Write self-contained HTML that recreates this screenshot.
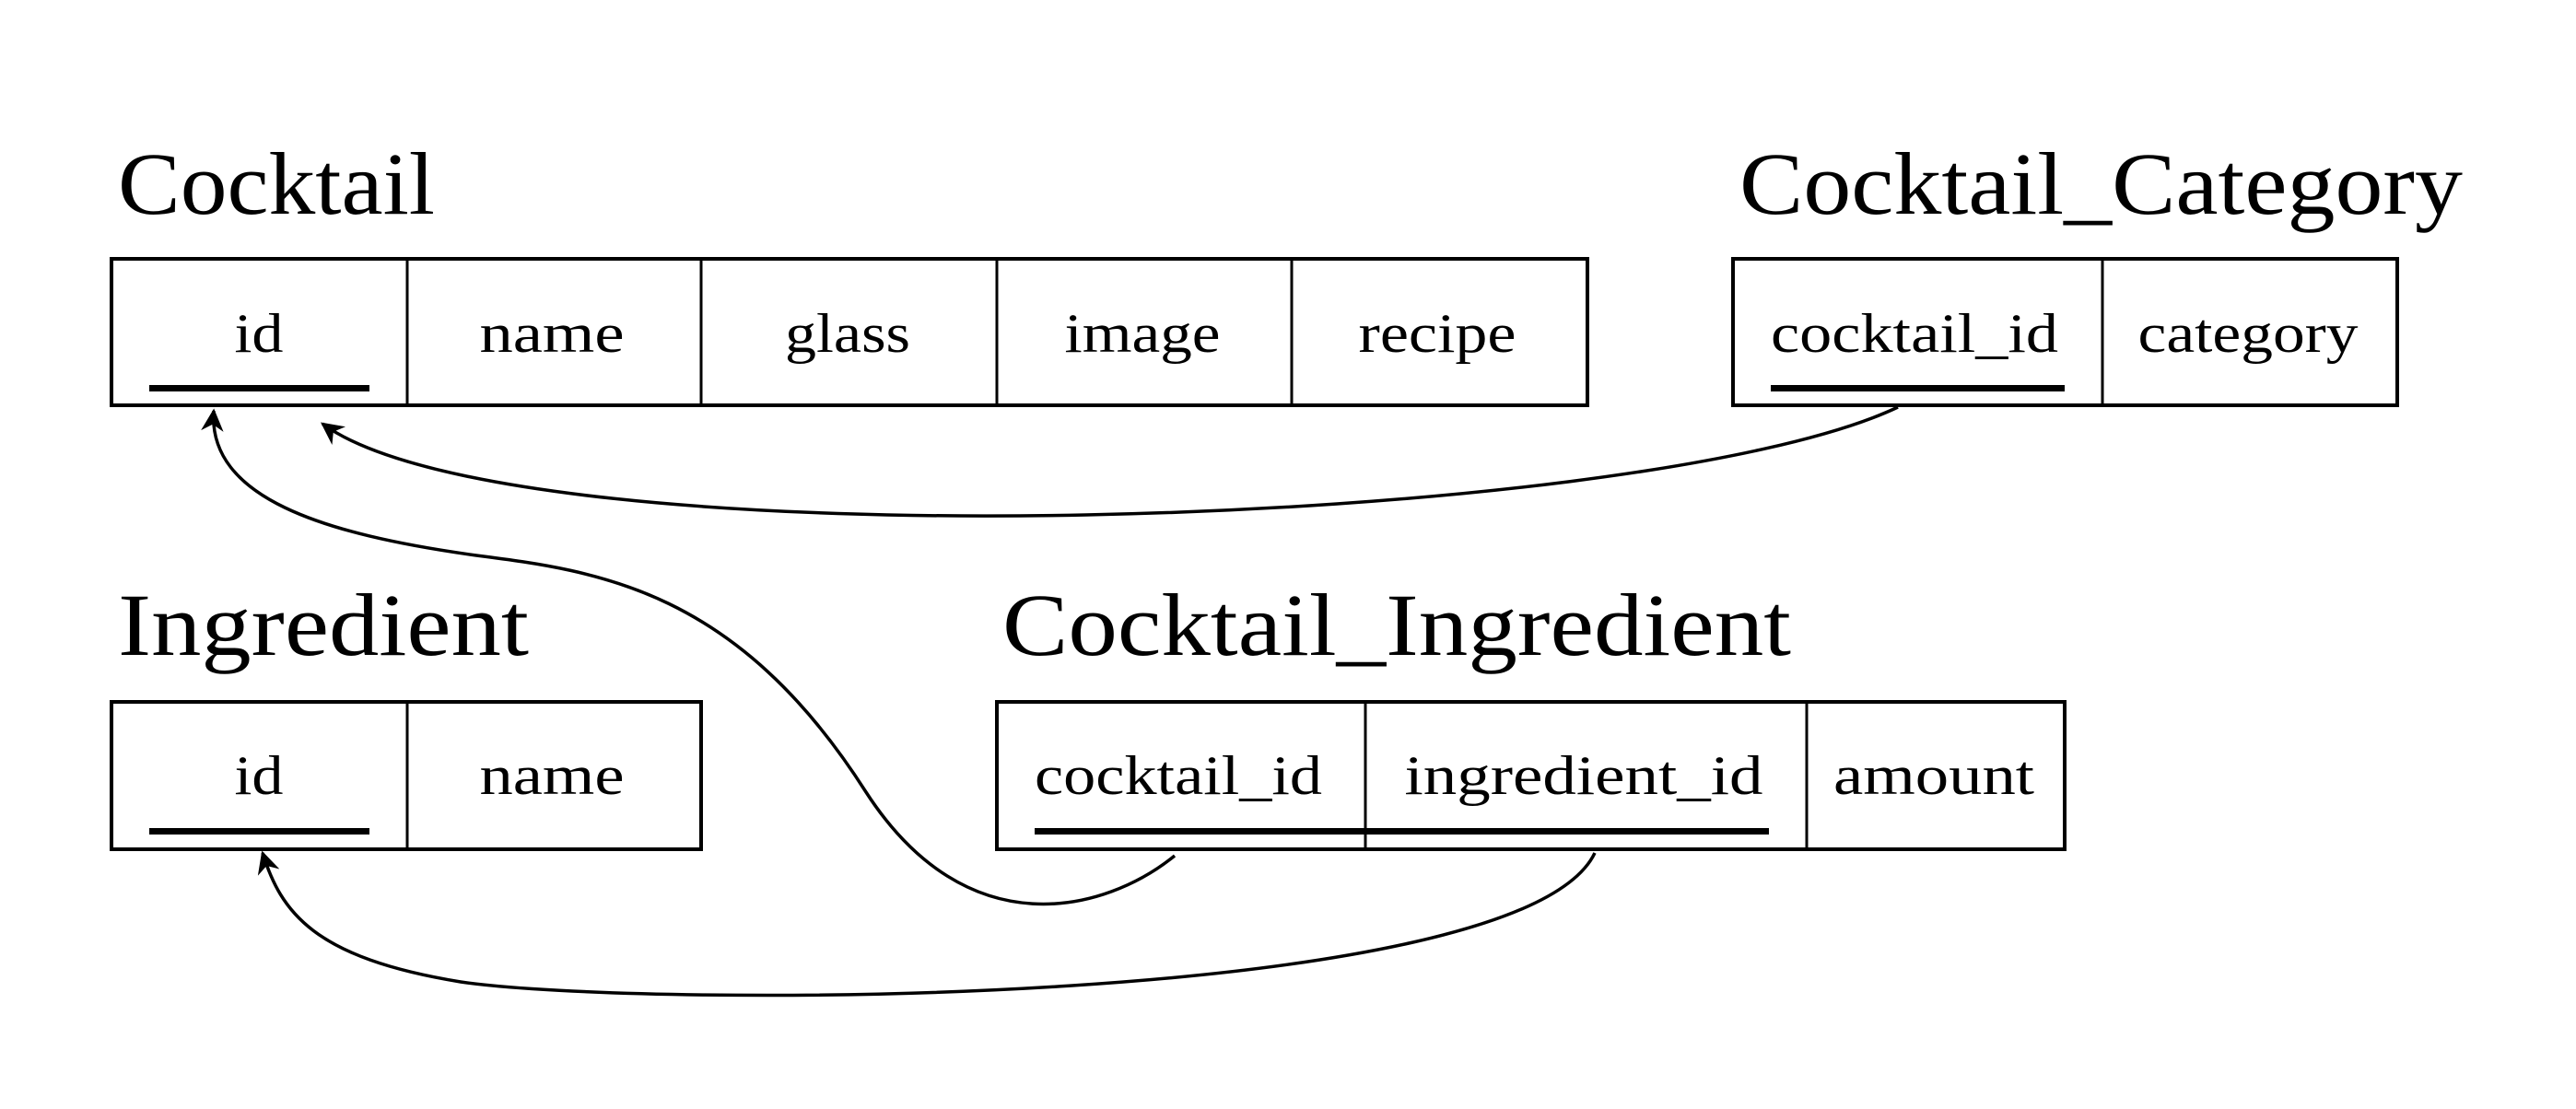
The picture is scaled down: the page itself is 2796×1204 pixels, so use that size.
<!DOCTYPE html>
<html><head><meta charset="utf-8"><style>
html,body{margin:0;padding:0;background:#fff;}
svg{display:block;}
text{font-family:"Liberation Serif",serif;fill:#000;}
.t{font-size:96px;}
.f{font-size:60px;text-anchor:middle;}
</style></head><body>
<svg width="2796" height="1204" viewBox="0 0 2796 1204" xmlns="http://www.w3.org/2000/svg">
<defs>
<marker id="a" viewBox="0 0 10 10" refX="9" refY="5" markerWidth="7" markerHeight="7" orient="auto" markerUnits="strokeWidth">
<path d="M0,0 L10,5 L0,10 L3,5 z" fill="#000"/></marker>
</defs>
<g fill="none" stroke="#000">
<rect x="121" y="281" width="1602" height="159" stroke-width="4"/>
<path d="M442 281V440M761 281V440M1082 281V440M1402 281V440" stroke-width="3"/>
<rect x="1881" y="281" width="721" height="159" stroke-width="4"/>
<path d="M2282 281V440" stroke-width="3"/>
<rect x="121" y="762" width="640" height="160" stroke-width="4"/>
<path d="M442 762V922" stroke-width="3"/>
<rect x="1082" y="762" width="1159" height="160" stroke-width="4"/>
<path d="M1482 762V922M1961 762V922" stroke-width="3"/>
</g>
<g fill="#000">
<rect x="162" y="418" width="239" height="7"/>
<rect x="1922" y="418" width="319" height="7"/>
<rect x="162" y="899" width="239" height="7"/>
<rect x="1123" y="899" width="797" height="7"/>
</g>
<text class="t" x="128" y="232" textLength="344" lengthAdjust="spacingAndGlyphs">Cocktail</text>
<text class="t" x="1888" y="232" textLength="785" lengthAdjust="spacingAndGlyphs">Cocktail_Category</text>
<text class="t" x="128" y="711" textLength="446" lengthAdjust="spacingAndGlyphs">Ingredient</text>
<text class="t" x="1088" y="711" textLength="856" lengthAdjust="spacingAndGlyphs">Cocktail_Ingredient</text>
<g class="f">
<text class="f" x="281" y="382" textLength="53" lengthAdjust="spacingAndGlyphs">id</text>
<text class="f" x="599" y="382" textLength="157" lengthAdjust="spacingAndGlyphs">name</text>
<text class="f" x="920" y="382" textLength="136" lengthAdjust="spacingAndGlyphs">glass</text>
<text class="f" x="1240" y="382" textLength="169" lengthAdjust="spacingAndGlyphs">image</text>
<text class="f" x="1560" y="382" textLength="171" lengthAdjust="spacingAndGlyphs">recipe</text>
<text class="f" x="2078" y="382" textLength="312" lengthAdjust="spacingAndGlyphs">cocktail_id</text>
<text class="f" x="2440" y="382" textLength="239" lengthAdjust="spacingAndGlyphs">category</text>
<text class="f" x="281" y="862" textLength="53" lengthAdjust="spacingAndGlyphs">id</text>
<text class="f" x="599" y="862" textLength="157" lengthAdjust="spacingAndGlyphs">name</text>
<text class="f" x="1279" y="862" textLength="312" lengthAdjust="spacingAndGlyphs">cocktail_id</text>
<text class="f" x="1719" y="862" textLength="389" lengthAdjust="spacingAndGlyphs">ingredient_id</text>
<text class="f" x="2099" y="862" textLength="218" lengthAdjust="spacingAndGlyphs">amount</text>
</g>
<g fill="none" stroke="#000" stroke-width="3.5" marker-end="url(#a)">
<path d="M2060 442 C1780 575, 560 615, 350 460"/>
<path d="M1275 929 C1200 990, 1050 1030, 940 860 C800 640, 650 620, 517 603 C350 580, 225 540, 232 446"/>
<path d="M1731 926 C1650 1095, 700 1095, 500 1066 C340 1040, 305 990, 285 926"/>
</g>
</svg>
</body></html>
